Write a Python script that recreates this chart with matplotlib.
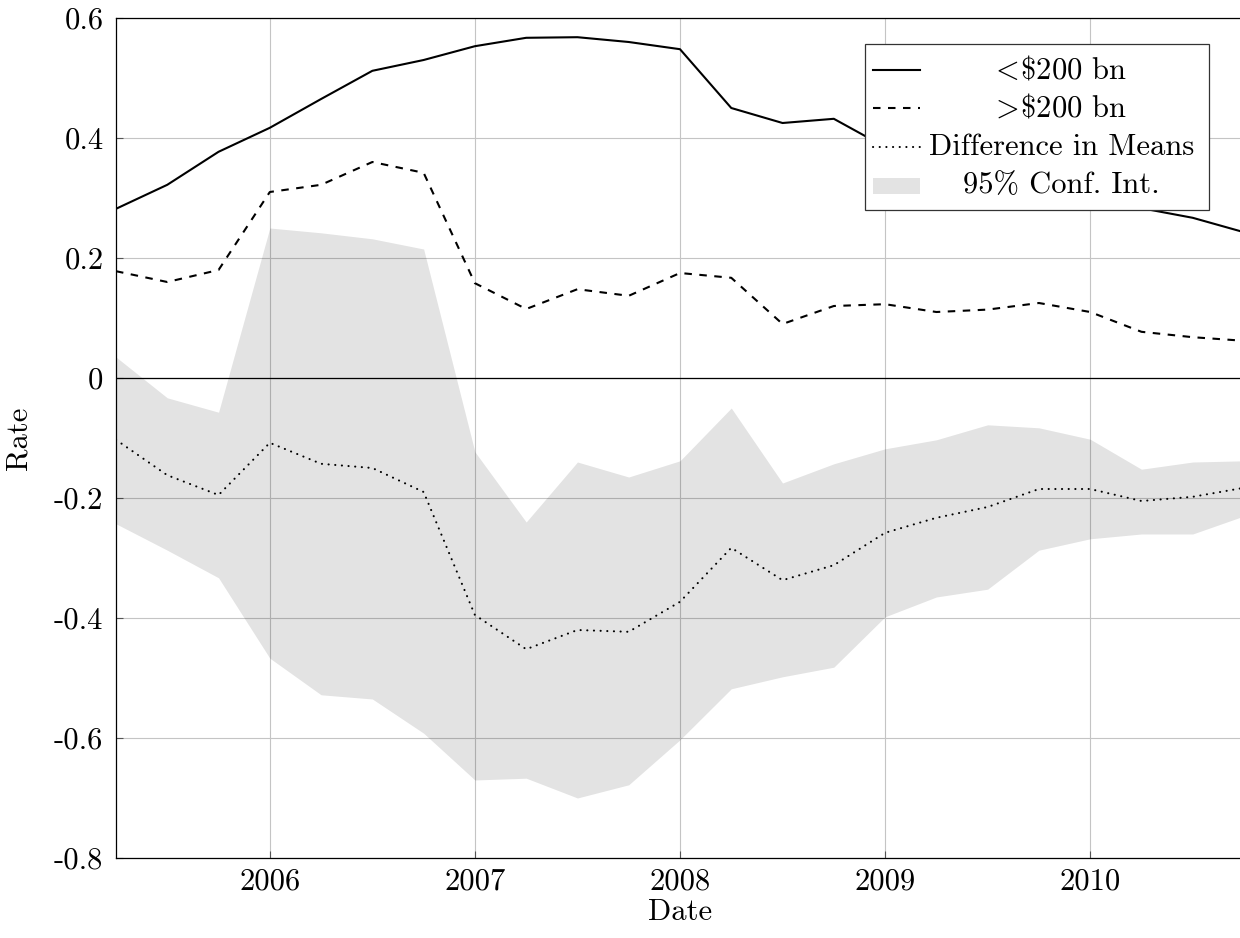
import numpy as np
import matplotlib
matplotlib.use("Agg")
import matplotlib.pyplot as plt
from matplotlib.patches import Rectangle
from matplotlib.lines import Line2D

# dados (trimestral)
datas = [2005.25, 2005.5, 2005.75, 2006.0, 2006.25, 2006.5, 2006.75,
         2007.0, 2007.25, 2007.5, 2007.75, 2008.0, 2008.25, 2008.5, 2008.75,
         2009.0, 2009.25, 2009.5, 2009.75, 2010.0, 2010.25, 2010.5, 2010.75]

menor_200 = [0.282, 0.322, 0.377, 0.417, 0.465, 0.512, 0.530, 0.553, 0.567,
             0.568, 0.560, 0.548, 0.450, 0.425, 0.432, 0.385, 0.360, 0.335,
             0.310, 0.295, 0.283, 0.267, 0.243]

maior_200 = [0.178, 0.160, 0.180, 0.310, 0.322, 0.360, 0.342, 0.158, 0.115,
             0.148, 0.137, 0.175, 0.167, 0.090, 0.120, 0.123, 0.110, 0.114,
             0.125, 0.110, 0.077, 0.068, 0.062]

diferenca = [-0.103, -0.162, -0.195, -0.108, -0.143, -0.150, -0.190, -0.395,
             -0.452, -0.420, -0.423, -0.373, -0.283, -0.337, -0.312, -0.258,
             -0.233, -0.215, -0.185, -0.185, -0.205, -0.198, -0.183]

ic_sup = [0.035, -0.033, -0.057, 0.250, 0.242, 0.232, 0.215, -0.123, -0.240,
          -0.140, -0.165, -0.138, -0.050, -0.175, -0.143, -0.118, -0.103,
          -0.078, -0.083, -0.102, -0.152, -0.140, -0.138]

ic_inf = [-0.243, -0.287, -0.333, -0.467, -0.528, -0.535, -0.592, -0.670,
          -0.667, -0.700, -0.678, -0.603, -0.518, -0.498, -0.482, -0.398,
          -0.365, -0.352, -0.287, -0.268, -0.260, -0.260, -0.230]

# \! tira o espaco que o mathtext coloca em volta de < e >
rotulos = ["$\\!<\\!$\\$200 bn", "$\\!>\\!$\\$200 bn", "Difference in Means", "95% Conf. Int."]

plt.rcParams['font.family'] = 'serif'
plt.rcParams['font.serif'] = ['cmr10']
plt.rcParams['mathtext.fontset'] = 'cm'
plt.rcParams['axes.formatter.use_mathtext'] = True
plt.rcParams['axes.unicode_minus'] = False
plt.rcParams['lines.scale_dashes'] = False

fs = 22
tracejado = (0, (5.4, 5.4))
pontilhado = (0, (0.1, 4.7))

fig = plt.figure(figsize=(12.4, 9.38), dpi=100)
ax = fig.add_axes([116/1240, 80/938, 1128/1240, 840/938])

# intervalo de confianca
ax.fill_between(datas, ic_inf, ic_sup, color='black', alpha=0.11, linewidth=0, zorder=1)
ax.axhline(0, color='black', lw=0.9, zorder=2)

ax.plot(datas, menor_200, color='black', lw=1.5, zorder=3)
ax.plot(datas, maior_200, color='black', lw=1.5, linestyle=tracejado, zorder=3)
ax.plot(datas, diferenca, color='black', lw=1.5, linestyle=pontilhado,
        dash_capstyle='round', zorder=3)

ax.set_xlim(2005.25, 2010.75)
ax.set_ylim(-0.8, 0.6)
ax.set_xticks([2006, 2007, 2008, 2009, 2010])
ax.set_yticks([-0.8, -0.6, -0.4, -0.2, 0, 0.2, 0.4, 0.6])
ax.xaxis.set_major_formatter(plt.FuncFormatter(lambda v, p: "%d" % round(v)))
ax.yaxis.set_major_formatter(plt.FuncFormatter(lambda v, p: "0" if abs(v) < 1e-9 else "%.1f" % v))

ax.grid(True, color='#c4c4c4', lw=0.8)
ax.set_axisbelow(True)
ax.tick_params(direction='in', length=5, width=0.8, color='#555555', labelsize=fs)
ax.tick_params(axis='y', pad=9)
ax.tick_params(axis='x', pad=7)
for s in ax.spines.values():
    s.set_linewidth(0.9)

ax.set_xlabel("Date", fontsize=fs)
ax.set_ylabel("Rate", fontsize=fs)
ax.xaxis.set_label_coords(0.5, -0.048)
ax.yaxis.set_label_coords(-0.074, 0.5)

# legenda feita na mao (texto centralizado como no pgfplots)
ax.add_patch(Rectangle((0.664, 0.771), 0.305, 0.198, transform=ax.transAxes,
                       facecolor='white', edgecolor='#333333', lw=0.9, zorder=5))
linhas_y = [0.938, 0.893, 0.846, 0.801]
estilos = ['-', tracejado, pontilhado]
for i in range(3):
    ax.add_line(Line2D([0.671, 0.713], [linhas_y[i]] * 2, transform=ax.transAxes,
                       color='black', lw=1.5, linestyle=estilos[i],
                       dash_capstyle='round' if i == 2 else 'butt', zorder=6))
ax.add_patch(Rectangle((0.671, 0.791), 0.042, 0.019, transform=ax.transAxes,
                       facecolor='black', alpha=0.11, lw=0, zorder=6))
for i in range(4):
    ax.text(0.838, linhas_y[i], rotulos[i], transform=ax.transAxes, fontsize=fs,
            ha='center', va='center', zorder=7)

fig.savefig("out.png", dpi=100)
